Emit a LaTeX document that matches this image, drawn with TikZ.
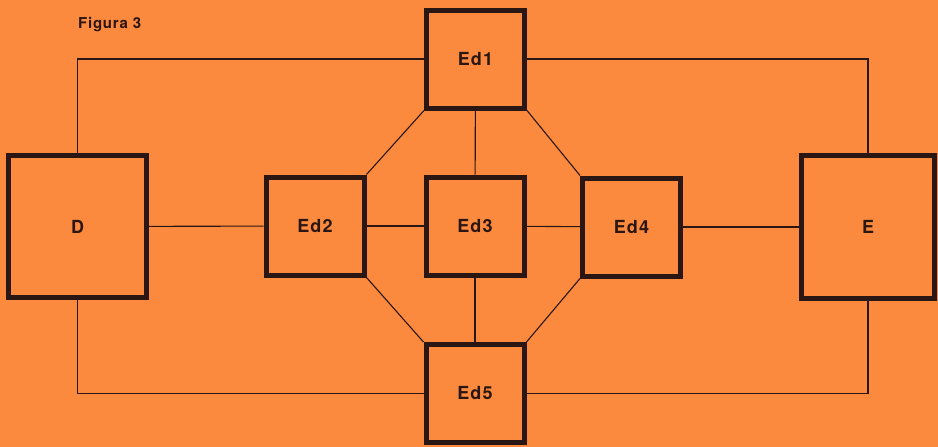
\documentclass[tikz,border=0pt]{standalone}
\usepackage{fontspec}
\setmainfont{TeX Gyre Heros}
\definecolor{sheet}{RGB}{252,138,62}
\definecolor{ink}{RGB}{42,22,18}
\tikzset{
    box/.style={draw=ink, line width=5pt, inner sep=0pt,
        minimum width=98pt, minimum height=98pt,
        font=\fontsize{18}{18}\bfseries\addfontfeature{LetterSpace=6}\selectfont, text=ink},
    bigbox/.style={box, minimum width=138pt, minimum height=142pt},
    wire/.style={draw=ink, line width=1.1pt}
}
\begin{document}
\begin{tikzpicture}[x=1pt, y=-1pt]
                % Sheet
                \fill[sheet] (0,0) rectangle (938,447);
                \useasboundingbox (0,0) rectangle (938,447);
                % Title
                \node[anchor=west, text=ink, inner sep=0pt, font=\fontsize{15}{15}\bfseries\addfontfeature{LetterSpace=5}\selectfont] (title) at (78,25) {Figura\hspace{5pt}3};
                % Boxes
                \node[bigbox] (D) at (77.5,226.5) {D};
                \node[bigbox, minimum width=133pt, minimum height=143pt] (E) at (868,227) {E};
                \node[box] (Ed1) at (475.5,59) {Ed1};
                \node[box] (Ed2) at (315,226) {Ed2};
                \node[box] (Ed3) at (475,226) {Ed3};
                \node[box] (Ed4) at (631.5,227) {Ed4};
                \node[box] (Ed5) at (475,393.5) {Ed5};
                % Middle row
                \draw[wire] (D) -- (Ed2);
                \draw[wire] (Ed2) -- (Ed3);
                \draw[wire] (Ed3) -- (Ed4);
                \draw[wire] (Ed4) -- (E);
                \draw[wire] (Ed1) -- (Ed3);
                \draw[wire] (Ed3) -- (Ed5);
                % Corners
                \foreach \a/\b in {Ed1.south west/Ed2.north east, Ed1.south east/Ed4.north west,
                                   Ed2.south east/Ed5.north west, Ed4.south west/Ed5.north east}
                    \draw[wire] (\a) -- (\b);
                % Outer ring
                \draw[wire] (D.north) |- (Ed1.west);
                \draw[wire] (Ed1.east) -| (E.north);
                \draw[wire] (D.south) |- (Ed5.west);
                \draw[wire] (Ed5.east) -| (E.south);
            \end{tikzpicture}
\end{document}
